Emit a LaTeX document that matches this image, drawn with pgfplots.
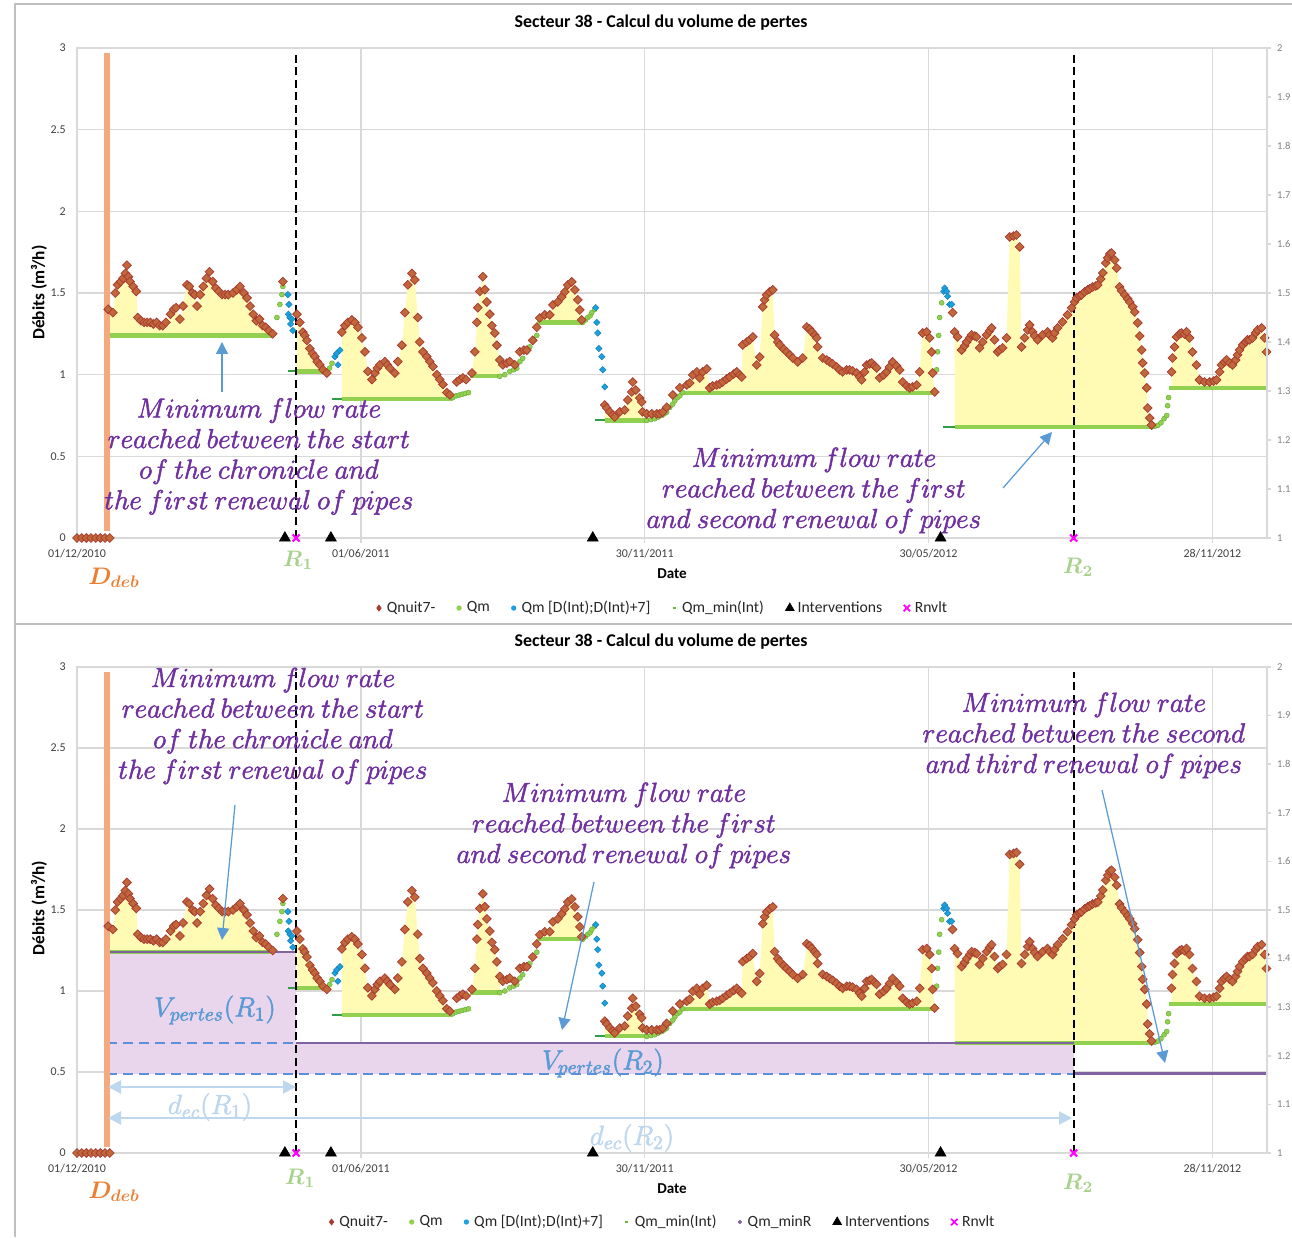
\RequirePackage{fix-cm}
\documentclass[border=0pt]{standalone}
\usepackage{fontspec}
\setmainfont{Carlito}
\usepackage{pgfplots}
\usepackage{pgfplotstable}
\pgfplotsset{compat=1.18}
\usetikzlibrary{arrows.meta}

\definecolor{cq}{HTML}{A83B32}
\definecolor{cqf}{HTML}{C0683A}
\definecolor{cy}{HTML}{FFFBB4}
\definecolor{cg}{HTML}{92D050}
\definecolor{cgd}{HTML}{6AB23A}
\definecolor{cgk}{HTML}{2E9E48}
\definecolor{cb}{HTML}{1BA1DF}
\definecolor{cbd}{HTML}{1580B5}
\definecolor{cp}{HTML}{8064A2}
\definecolor{cpink}{HTML}{E9D5EC}
\definecolor{cdash}{HTML}{5B8FD9}
\definecolor{carr}{HTML}{5B9BD5}
\definecolor{cdec}{HTML}{BDD7EE}
\definecolor{ctxt}{HTML}{7030A0}
\definecolor{corg}{HTML}{F4A97F}
\definecolor{cdeb}{HTML}{ED7D31}
\definecolor{cR}{HTML}{A9D18E}
\definecolor{cgrid}{HTML}{D9D9D9}
\definecolor{ctick}{HTML}{404040}
\definecolor{clegend}{HTML}{262626}
\definecolor{cteal}{HTML}{3AA8A0}
\definecolor{cframe}{HTML}{BFBFBF}
\definecolor{cmag}{HTML}{FF00FF}

% heavier strokes for the math-italic notes
\newcommand\hv[1]{\special{pdf:literal direct 2 Tr 0.3 w}#1\special{pdf:literal direct 0 Tr}}

% Qnuit7- by interval
\pgfplotstableread{
x y
20 1.40
23 1.38
24.5 1.50
26 1.55
28 1.57
29.5 1.59
31 1.62
32 1.67
33 1.60
34 1.57
36 1.54
38 1.51
39 1.35
41 1.33
43 1.32
45 1.32
47 1.32
49 1.31
51 1.32
53 1.30
55 1.30
57 1.32
60 1.37
62 1.40
63.5 1.41
66 1.34
68 1.42
70.5 1.55
72 1.54
74 1.50
75.5 1.49
77 1.42
79 1.49
81 1.54
83 1.59
85 1.63
87 1.57
89 1.53
91 1.51
93 1.49
95 1.49
97 1.49
100 1.50
102.5 1.52
104.5 1.54
107 1.50
109 1.47
111 1.42
113 1.37
115 1.33
117 1.34
119 1.30
121 1.29
123 1.27
125.5 1.25
}\segA
\pgfplotstableread{
x y
141 1.37
142.9 1.32
144.8 1.26
146 1.24
147.4 1.21
149.3 1.16
151 1.13
152.5 1.11
154 1.08
155.7 1.06
157.7 1.03
160.2 1.01
}\segB
\pgfplotstableread{
x y
169.8 1.26
171.8 1.30
173.7 1.32
176.2 1.335
178.2 1.32
180.1 1.29
182.7 1.225
184.6 1.14
186.5 1.02
189.1 0.97
191.0 1.01
192.6 1.04
194.2 1.06
197.4 1.08
199 1.06
200.6 1.04
203.8 1.01
205.7 1.08
208.3 1.18
210.2 1.38
212.1 1.55
214.7 1.62
216.6 1.58
218.5 1.35
219.8 1.20
221.8 1.14
224.3 1.11
226.2 1.08
228.2 1.05
230.7 1.00
232.6 0.97
234.6 0.94
237.1 0.89
239.1 0.876
}\segC
\pgfplotstableread{
x y
253.2 1.01
255.1 1.14
256.4 1.32
257.0 1.41
258.3 1.51
260.2 1.60
261.5 1.52
262.8 1.445
264.7 1.37
266.0 1.30
267.9 1.255
269.2 1.18
271.1 1.09
}\segD
\pgfplotstableread{
x y
296.7 1.347
299.9 1.366
303.1 1.366
305.1 1.427
308.3 1.445
310.8 1.476
312.8 1.507
314.7 1.549
317.2 1.568
319.2 1.519
321.1 1.458
322.4 1.396
323.6 1.335
}\segE
\pgfplotstableread{
x y
338.4 0.814
339.7 0.796
341.6 0.772
343.5 0.753
344.8 0.741
348.0 0.772
351.2 0.784
353.1 0.845
355.7 0.894
356.3 0.955
358.3 0.906
360.8 0.857
362.1 0.833
362.7 0.772
}\segF
\pgfplotstableread{
x y
391.0 0.937
392.9 0.949
394.8 0.998
397.4 1.017
399.3 0.980
401.2 1.017
403.8 1.035
405.7 0.919
407.6 0.931
410.2 0.937
412.1 0.943
414.0 0.955
416.6 0.974
418.5 0.986
421.1 1.004
423.0 1.017
424.9 0.998
426.2 0.986
426.8 1.182
429.4 1.200
431.3 1.213
433.3 1.231
435.8 1.059
437.7 1.108
439.7 1.415
440.9 1.458
442.2 1.488
444.1 1.507
446.1 1.519
447.3 1.243
449.3 1.200
450.6 1.182
453.1 1.157
455.0 1.139
457.0 1.121
458.9 1.102
462.1 1.078
465.3 1.102
467.9 1.292
469.8 1.280
471.1 1.262
473.0 1.243
474.3 1.225
474.9 1.170
478.1 1.102
480.7 1.090
482.6 1.078
484.5 1.066
487.1 1.047
489.0 1.029
490.9 1.017
493.5 1.029
495.4 1.029
497.3 1.023
499.9 1.010
501.8 0.986
503.1 0.968
505.0 1.017
506.3 1.059
508.2 1.066
509.5 1.072
511.4 1.053
512.7 1.041
514.6 0.980
517.2 0.998
519.1 1.017
521.0 1.047
523.0 1.078
525.5 1.053
527.5 1.029
529.4 0.955
532.0 0.931
533.9 0.919
535.8 0.925
538.4 0.937
540.3 1.017
542.2 1.255
544.8 1.262
546.7 1.225
548.0 1.139
548.6 1.010
549.9 0.894
}\segG
\pgfplotstableread{
x y
562.7 1.262
564.6 1.231
567.2 1.151
569.1 1.176
570.4 1.200
572.4 1.225
573.6 1.243
575.6 1.237
576.8 1.231
578.7 1.164
580.7 1.200
583.2 1.243
585.1 1.268
586.4 1.286
588.3 1.213
590.3 1.139
591.5 1.151
593.5 1.164
596.0 1.225
598.0 1.843
600.5 1.849
602.4 1.855
604.4 1.782
605.6 1.170
607.6 1.225
609.5 1.274
610.8 1.304
612.7 1.262
614.0 1.237
615.9 1.213
619.1 1.243
622.3 1.262
623.6 1.243
625.5 1.225
626.8 1.255
628.7 1.286
631.9 1.323
635.1 1.366
637.7 1.409
639.6 1.445
640.9 1.470
642.8 1.482
644.1 1.488
646.1 1.507
648.0 1.519
649.3 1.525
651.2 1.537
653.2 1.543
654.5 1.549
656.4 1.586
657.7 1.623
659.6 1.684
660.9 1.715
662.2 1.739
663.3 1.745
665.4 1.702
666.6 1.653
668.5 1.537
669.8 1.513
671.8 1.488
673.7 1.464
675.0 1.445
676.9 1.415
678.2 1.384
680.1 1.317
681.4 1.237
682.7 1.151
683.3 1.072
684.6 1.010
685.9 0.919
686.5 0.796
687.8 0.735
689.0 0.692
}\segH
\pgfplotstableread{
x y
701.8 1.017
702.4 1.102
703.7 1.170
705.0 1.231
706.9 1.249
708.2 1.255
710.1 1.249
711.4 1.262
713.3 1.225
715.2 1.139
717.8 1.059
719.7 0.968
722.9 0.955
726.2 0.955
728.8 0.961
730.6 0.968
732.6 1.017
733.8 1.059
735.7 1.078
737.1 1.090
739.0 1.072
740.9 1.059
742.9 1.090
744.1 1.121
745.4 1.151
747.4 1.182
749.3 1.200
750.5 1.213
751.8 1.213
753.7 1.225
755.7 1.255
757.0 1.274
759.5 1.286
761.5 1.225
762.7 1.139
}\segI
% Qnuit7- outside the filled intervals
\pgfplotstableread{
x y
0 0
3 0
6 0
9 0
12 0
15 0
18 0
21 0
132 1.57
243.5 0.955
245.5 0.97
247.4 0.98
249.5 0.97
273 1.06
275.6 1.07
277.5 1.08
280.7 1.06
283.9 1.14
286.5 1.15
288.4 1.15
292.2 1.21
294.8 1.29
365.3 0.76
368.5 0.76
371.7 0.76
373.6 0.76
375.6 0.77
378.1 0.80
382 0.876
386.5 0.92
561.4 1.38
}\qt
% Qm
\pgfplotstableread{
x y
128.2 1.35
130.1 1.43
131.4 1.49
132.0 1.54
160.5 1.02
162.0 1.04
163.5 1.07
241.0 0.86
243.0 0.87
245.0 0.875
247.0 0.88
249.0 0.885
251.0 0.89
271.1 0.99
274.3 1.00
277.5 1.02
280.0 1.03
282.0 1.04
284.0 1.08
285.8 1.10
288.4 1.14
290.3 1.17
292.2 1.21
294.8 1.24
324.3 1.32
326.0 1.335
327.5 1.35
329.0 1.36
330.1 1.38
332.0 1.40
365.3 0.72
368.0 0.725
370.4 0.73
372.6 0.74
374.9 0.75
376.5 0.76
378.1 0.77
380.1 0.80
382.0 0.82
383.3 0.84
385.0 0.86
386.5 0.87
388.4 0.89
551.2 1.03
551.8 1.14
552.5 1.24
553.1 1.35
554.4 1.44
689.0 0.68
691.0 0.684
693.0 0.69
695.0 0.705
697.0 0.73
698.7 0.75
699.3 0.81
699.9 0.86
}\qmt
% Qm [D(Int);D(Int)+7]
\pgfplotstableread{
x y
135.2 1.49
135.5 1.37
135.9 1.43
136.5 1.35
137.0 1.31
137.8 1.34
138.4 1.27
165.4 1.11
166.5 1.13
167.3 1.06
168.6 1.15
332.6 1.41
333.3 1.32
333.9 1.255
334.6 1.16
336.5 1.11
337.1 1.03
338.4 0.925
555.7 1.51
556.3 1.53
557.6 1.51
558.2 1.48
559.5 1.43
560.8 1.43
}\qbt
% Qm_min(Int)
\pgfplotstableread{
x y
19.5 1.24
125.5 1.24
nan nan
141 1.02
161 1.02
nan nan
169.8 0.85
241 0.85
nan nan
252 0.99
271.5 0.99
nan nan
294.8 1.32
324.3 1.32
nan nan
338.4 0.72
364 0.72
nan nan
388 0.89
548.6 0.89
nan nan
562.7 0.68
689 0.68
nan nan
700 0.92
763 0.92
}\qmin
\pgfplotstableread{
x y
135.2 1.02
141 1.02
nan nan
163.7 0.85
169.8 0.85
nan nan
332 0.72
338.4 0.72
nan nan
555 0.68
562.7 0.68
}\qmind

\pgfplotsset{
  panel/.style={
    scale only axis, width=238mm, height=#1,
    xmin=0, xmax=763, ymin=0, ymax=3,
    xtick={0,182,364,546,728},
    xticklabels={01/12/2010,01/06/2011,30/11/2011,30/05/2012,28/11/2012},
    ytick={0,0.5,1,1.5,2,2.5,3},
    xmajorgrids, ymajorgrids,
    major grid style={draw=cgrid, line width=0.3mm},
    axis line style={draw=cgrid, line width=0.3mm},
    xtick style={draw=cgrid, line width=0.3mm},
    ytick style={draw=none},
    xtick pos=left, ytick pos=left,
    tick align=outside, major tick length=1mm,
    tick label style={font=\fontsize{6.8}{8}\selectfont, text=ctick},
    /pgf/number format/assume math mode=true,
    clip=false, unbounded coords=jump,
    legend columns=-1, legend cell align=left,
    legend style={draw=none, fill=none, anchor=center,
      font=\fontsize{8.9}{10}\selectfont, text=clegend,
      /tikz/every even column/.append style={column sep=3.6mm}},
  },
  raxis/.style={
    scale only axis, width=238mm, height=#1,
    xmin=0, xmax=763, ymin=1, ymax=2,
    axis x line=none, axis y line*=right,
    ytick={1,1.1,1.2,1.3,1.4,1.5,1.6,1.7,1.8,1.9,2},
    axis line style={draw=cgrid, line width=0.3mm},
    ytick style={draw=cgrid, line width=0.3mm},
    tick align=outside, major tick length=0.8mm,
    tick label style={font=\fontsize{6}{7}\selectfont, text=gray},
    /pgf/number format/assume math mode=true,
    /pgf/number format/fixed, /pgf/number format/precision=1,
  },
  yf/.style={fill=cy, draw=none, forget plot},
  minl/.style={cg, line width=0.85mm, forget plot},
  mind/.style={cgk, line width=0.4mm, forget plot},
  qn/.style={only marks, mark=square*, mark size=0.62mm,
    mark options={rotate=45, draw=cq, fill=cqf, line width=0.15mm}, forget plot},
  qm/.style={only marks, mark=*, mark size=0.5mm,
    mark options={draw=cgd, fill=cg, line width=0.1mm}, forget plot},
  qb/.style={only marks, mark=square*, mark size=0.45mm,
    mark options={rotate=45, draw=cbd, fill=cb, line width=0.1mm}, forget plot},
  lgq/.style={legend image code/.code={\draw[cq,fill=cq,mark=diamond*,mark size=0.6mm] plot coordinates {(0.5mm,0mm)}; \path (1.3mm,0mm);}},
  lgm/.style={legend image code/.code={\draw[cg,fill=cg,mark=*,mark size=0.45mm] plot coordinates {(0.5mm,0mm)}; \path (1.3mm,0mm);}},
  lgb/.style={legend image code/.code={\draw[cb,fill=cb,mark=*,mark size=0.45mm] plot coordinates {(0.5mm,0mm)}; \path (1.3mm,0mm);}},
  lgmin/.style={legend image code/.code={\draw[cgd,line width=0.35mm] (0.2mm,0mm) -- (0.8mm,0mm); \path (1.3mm,0mm);}},
  lgr/.style={legend image code/.code={\draw[cp,fill=cp,mark=*,mark size=0.35mm] plot coordinates {(0.5mm,0mm)}; \path (1.3mm,0mm);}},
  lgi/.style={legend image code/.code={\draw[black,fill=black,mark=triangle*,mark size=1mm] plot coordinates {(0.5mm,0mm)}; \path (1.3mm,0mm);}},
  lgx/.style={legend image code/.code={\draw[cmag,line width=0.35mm,mark=x,mark size=0.9mm] plot coordinates {(0.5mm,0mm)}; \path (1.3mm,0mm);}},
}
\tikzset{
  ann/.style={text=ctxt, align=center, inner sep=0pt, font=\fontsize{15.6}{17.4}\selectfont},
  arr/.style={carr, line width=0.25mm, -{Triangle[length=2.4mm,width=2.4mm]}},
  dec/.style={cdec, line width=0.4mm, {Triangle[length=2.6mm,width=2.6mm]}-{Triangle[length=2.6mm,width=2.6mm]}},
}

\newcommand\commonplots{%
  \addplot[yf] table {\segA} -- (axis cs:125.5,1.24) -- (axis cs:20,1.24) -- cycle;
  \addplot[yf] table {\segB} -- (axis cs:160.2,1.02) -- (axis cs:141,1.02) -- cycle;
  \addplot[yf] table {\segC} -- (axis cs:239.1,0.85) -- (axis cs:169.8,0.85) -- cycle;
  \addplot[yf] table {\segD} -- (axis cs:271.1,0.99) -- (axis cs:253.2,0.99) -- cycle;
  \addplot[yf] table {\segE} -- (axis cs:323.6,1.32) -- (axis cs:296.7,1.32) -- cycle;
  \addplot[yf] table {\segF} -- (axis cs:362.7,0.72) -- (axis cs:338.4,0.72) -- cycle;
  \addplot[yf] table {\segG} -- (axis cs:549.9,0.89) -- (axis cs:391,0.89) -- cycle;
  \addplot[yf] table {\segH} -- (axis cs:689,0.68) -- (axis cs:562.7,0.68) -- cycle;
  \addplot[yf] table {\segI} -- (axis cs:762.7,0.92) -- (axis cs:701.8,0.92) -- cycle;
  \addplot[minl] table {\qmin};
  \addplot[mind] table {\qmind};
  \addplot[qm] table {\qmt};
  \addplot[qb] table {\qbt};
  \addplot[qn] table {\segA};
  \addplot[qn] table {\segB};
  \addplot[qn] table {\segC};
  \addplot[qn] table {\segD};
  \addplot[qn] table {\segE};
  \addplot[qn] table {\segF};
  \addplot[qn] table {\segG};
  \addplot[qn] table {\segH};
  \addplot[qn] table {\segI};
  \addplot[qn] table {\qt};
  \addplot[cteal, line width=0.6mm, forget plot] coordinates {(1,0) (20,0)};
}
\newcommand\lastplots{%
  \addplot[black, line width=0.4mm, dash pattern=on 1.6mm off 0.9mm, forget plot]
    coordinates {(140.5,0) (140.5,2.97)};
  \addplot[black, line width=0.4mm, dash pattern=on 1.6mm off 0.9mm, forget plot]
    coordinates {(639,0) (639,2.97)};
  \addplot[corg, line width=1.2mm, forget plot] coordinates {(19.2,0.04) (19.2,2.97)};
  \addplot[only marks, mark=triangle*, mark size=1.25mm, black, forget plot]
    coordinates {(133.3,0) (162.8,0) (330.7,0) (553.7,0)};
  \addplot[only marks, mark=x, mark size=1.0mm, cmag, line width=0.4mm, forget plot]
    coordinates {(140.5,0) (639,0)};
}

\begin{document}
\begin{tikzpicture}
\path[use as bounding box] (0,0) rectangle (258.4mm,247.4mm);
\draw[cframe, line width=0.35mm] (258.4mm,246.6mm) -- (3mm,246.6mm) -- (3mm,0mm);
\draw[cframe, line width=0.35mm] (3mm,122.6mm) -- (258.4mm,122.6mm);

% top panel
\begin{axis}[panel=98mm, at={(15.4mm,139.8mm)}, anchor=south west,
  legend style={at={(0.493,-0.143)}}]
\commonplots
\lastplots
\addlegendimage{lgq}\addlegendentry{Qnuit7-}
\addlegendimage{lgm}\addlegendentry{Qm}
\addlegendimage{lgb}\addlegendentry{Qm [D(Int);D(Int)+7]}
\addlegendimage{lgmin}\addlegendentry{Qm\_min(Int)}
\addlegendimage{lgi}\addlegendentry{Interventions}
\addlegendimage{lgx}\addlegendentry{Rnvlt}
\end{axis}
\begin{axis}[raxis=98mm, at={(15.4mm,139.8mm)}, anchor=south west]
\addplot[draw=none] coordinates {(0,1)};
\end{axis}

% bottom panel
\begin{axis}[panel=97.2mm, at={(15.4mm,16.8mm)}, anchor=south west,
  legend style={at={(0.493,-0.142)}}]
\addplot[fill=cpink, draw=none, forget plot]
  coordinates {(19.5,0.49) (140.5,0.49) (140.5,1.24) (19.5,1.24)} -- cycle;
\addplot[fill=cpink, draw=none, forget plot]
  coordinates {(140.5,0.49) (639,0.49) (639,0.68) (140.5,0.68)} -- cycle;
\commonplots
\addplot[cp, line width=0.5mm, forget plot]
  coordinates {(19.5,1.24) (140.5,1.24) (140.5,nan) (140.5,0.68) (639,0.68) (639,nan) (639,0.49) (763,0.49)};
\addplot[cdash, line width=0.4mm, dash pattern=on 2mm off 1.2mm, forget plot]
  coordinates {(19.5,0.68) (140.5,0.68)};
\addplot[cdash, line width=0.4mm, dash pattern=on 2mm off 1.2mm, forget plot]
  coordinates {(19.5,0.49) (639,0.49)};
\lastplots
\addlegendimage{lgq}\addlegendentry{Qnuit7-}
\addlegendimage{lgm}\addlegendentry{Qm}
\addlegendimage{lgb}\addlegendentry{Qm [D(Int);D(Int)+7]}
\addlegendimage{lgmin}\addlegendentry{Qm\_min(Int)}
\addlegendimage{lgr}\addlegendentry{Qm\_minR}
\addlegendimage{lgi}\addlegendentry{Interventions}
\addlegendimage{lgx}\addlegendentry{Rnvlt}
\end{axis}
\begin{axis}[raxis=97.2mm, at={(15.4mm,16.8mm)}, anchor=south west]
\addplot[draw=none] coordinates {(0,1)};
\end{axis}

% titles and axis titles
\node[font=\bfseries\fontsize{10.2}{12}\selectfont] at (132.2mm,242.8mm) {Secteur 38 - Calcul du volume de pertes};
\node[font=\bfseries\fontsize{10.2}{12}\selectfont] at (132.2mm,119.0mm) {Secteur 38 - Calcul du volume de pertes};
\node[font=\bfseries\fontsize{8.6}{10}\selectfont] at (134.4mm,132.6mm) {Date};
\node[font=\bfseries\fontsize{8.6}{10}\selectfont] at (134.4mm,9.6mm) {Date};
\node[rotate=90, font=\bfseries\fontsize{9.8}{11}\selectfont] at (7.8mm,188.9mm) {Débits (m³/h)};
\node[rotate=90, font=\bfseries\fontsize{9.8}{11}\selectfont] at (7.8mm,65.8mm) {Débits (m³/h)};

% markers under the axes
\node[text=cdeb, font=\boldmath\fontsize{13.6}{15}\selectfont] at (22.8mm,131.8mm) {$D_{deb}$};
\node[text=cdeb, font=\boldmath\fontsize{13.6}{15}\selectfont] at (22.8mm,9.0mm) {$D_{deb}$};
\node[text=cR, font=\boldmath\fontsize{12.8}{14}\selectfont] at (59.6mm,135.4mm) {$R_1$};
\node[text=cR, font=\boldmath\fontsize{12.8}{14}\selectfont] at (60.0mm,11.8mm) {$R_1$};
\node[text=cR, font=\boldmath\fontsize{12.8}{14}\selectfont] at (215.6mm,134.0mm) {$R_2$};
\node[text=cR, font=\boldmath\fontsize{12.8}{14}\selectfont] at (215.6mm,10.8mm) {$R_2$};

% annotations, top
\node[ann] at (51.8mm,156.1mm) {\hv{$Minimum\ flow\ rate$\\$reached\ between\ the\ start$\\$of\ the\ chronicle\ and$\\$the\ first\ renewal\ of\ pipes$}};
\draw[arr] (44.4mm,169.0mm) -- (44.4mm,179.0mm);
\node[ann] at (162.8mm,149.3mm) {\hv{$Minimum\ flow\ rate$\\$reached\ between\ the\ first$\\$and\ second\ renewal\ of\ pipes$}};
\draw[arr] (200.6mm,149.8mm) -- (210.4mm,161.0mm);

% annotations, bottom
\node[ann] at (54.6mm,102.2mm) {\hv{$Minimum\ flow\ rate$\\$reached\ between\ the\ start$\\$of\ the\ chronicle\ and$\\$the\ first\ renewal\ of\ pipes$}};
\draw[arr] (47.0mm,86.4mm) -- (44.4mm,59.4mm);
\node[ann] at (124.8mm,82.3mm) {\hv{$Minimum\ flow\ rate$\\$reached\ between\ the\ first$\\$and\ second\ renewal\ of\ pipes$}};
\draw[arr] (118.8mm,71.0mm) -- (112.4mm,41.4mm);
\node[ann] at (216.8mm,100.3mm) {\hv{$Minimum\ flow\ rate$\\$reached\ between\ the\ second$\\$and\ third\ renewal\ of\ pipes$}};
\draw[arr] (220.4mm,89.4mm) -- (233.0mm,34.8mm);

\node[text=carr, font=\fontsize{15.7}{18}\selectfont] at (43.0mm,45.4mm) {\hv{$V_{pertes}(R_1)$}};
\node[text=carr, font=\fontsize{15.7}{18}\selectfont] at (120.6mm,34.8mm) {\hv{$V_{pertes}(R_2)$}};
\draw[dec] (21.6mm,30.0mm) -- (59.2mm,30.0mm);
\draw[dec] (21.6mm,23.8mm) -- (214.4mm,23.8mm);
\node[text=cdec, font=\fontsize{15.7}{18}\selectfont] at (42.0mm,26.0mm) {\hv{$d_{ec}(R_1)$}};
\node[text=cdec, font=\fontsize{15.7}{18}\selectfont] at (126.4mm,19.8mm) {\hv{$d_{ec}(R_2)$}};
\end{tikzpicture}
\end{document}
